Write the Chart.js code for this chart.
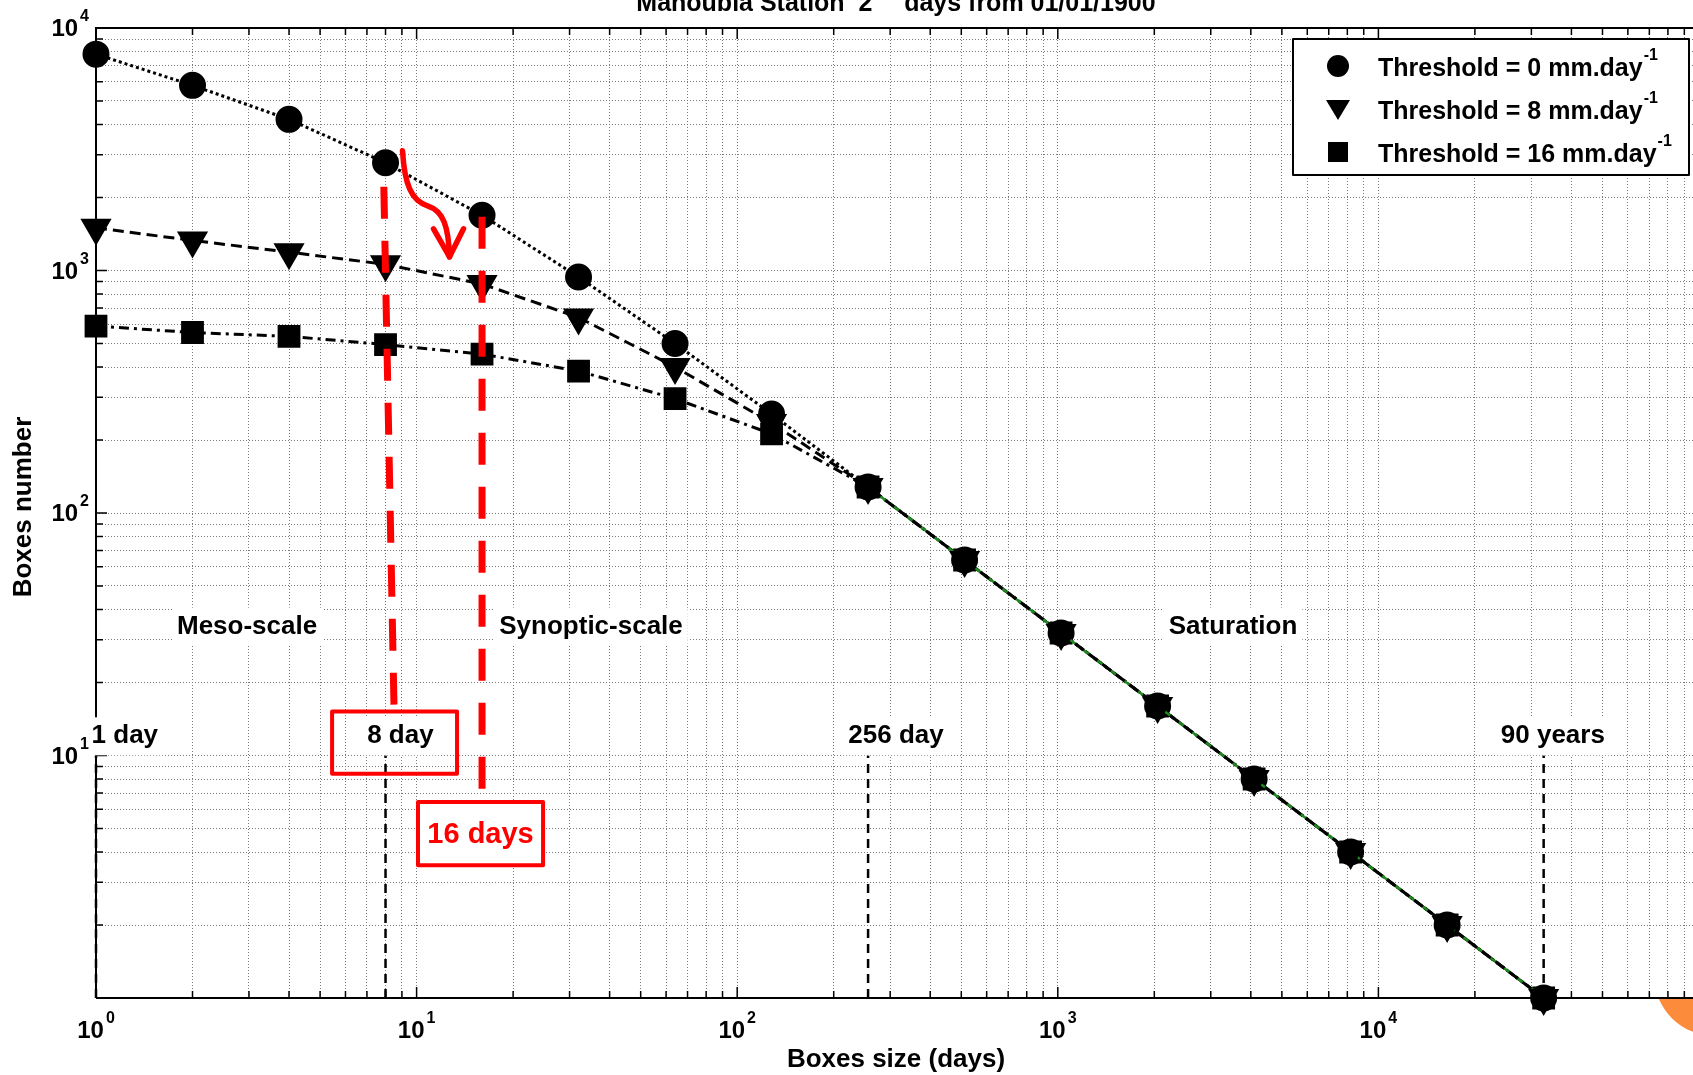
<!DOCTYPE html>
<html>
<head>
<meta charset="utf-8">
<title>Manoubia Station - boxes number vs boxes size</title>
<script src="https://cdn.jsdelivr.net/npm/chart.js@4.4.0/dist/chart.umd.min.js"></script>
<style>
  html, body { margin: 0; padding: 0; background: #fff; overflow: hidden; }
  #wrap { width: 1700px; height: 1075px; }
</style>
</head>
<body>
<div id="wrap"><canvas id="boxChart" width="1700" height="1075"></canvas></div>
<script>
// Box sizes in days (powers of two up to 2^15)
const boxSizes = [1, 2, 4, 8, 16, 32, 64, 128, 256, 512, 1024, 2048, 4096, 8192, 16384, 32768];
// Boxes number per threshold
const threshold0 = [7800, 5800, 4200, 2780, 1690, 940, 500, 256, 128, 64, 32, 16, 8, 4, 2, 1];
const threshold8 = [1500, 1330, 1190, 1060, 880, 640, 400, 235, 128, 64, 32, 16, 8, 4, 2, 1];
const threshold16 = [590, 555, 535, 495, 452, 385, 296, 212, 128, 64, 32, 16, 8, 4, 2, 1];
// green line along the saturation part
const fitSizes = [256, 512, 1024, 2048, 4096, 8192, 16384, 32768];
const fitValues = [128, 64, 32, 16, 8, 4, 2, 1];

const seriesLabels = ['Threshold = 0 mm.day', 'Threshold = 8 mm.day', 'Threshold = 16 mm.day'];
const xTickValues = [1, 10, 100, 1000, 10000];
const xTickExp = ['0', '1', '2', '3', '4'];
const yTickValues = [10, 100, 1000, 10000];
const yTickExp = ['1', '2', '3', '4'];

// black dashed markers (days) and their captions
const markerDays = [1, 8, 256, 32768];
const markerTop = 10;
const captionText = ['1 day', '8 day', '256 day', '90 years'];
const captionDays = [1.23, 8.9, 313, 35000];
const captionLevel = 12;
// scale regions
const regionNames = ['Meso-scale', 'Synoptic-scale', 'Saturation'];
const regionDays = [2.96, 35, 3520];
const regionLevel = 34;

const FONT = '"Liberation Sans", Arial, Helvetica, sans-serif';

function toPoints(xs, ys) {
  return xs.map((x, i) => ({ x: x, y: ys[i] }));
}

function gridValues(lo, hi) {
  const out = [];
  for (let d = lo; d < hi; d *= 10) {
    for (let m = 1; m < 10; m++) out.push(d * m);
  }
  out.push(hi);
  return out;
}

// "10" with a raised exponent
function drawPow(ctx, exp, x, y, align) {
  ctx.font = 'bold 24px ' + FONT;
  const wb = ctx.measureText('10').width;
  ctx.font = 'bold 16px ' + FONT;
  const we = ctx.measureText(exp).width;
  const total = wb + 2 + we;
  const x0 = align === 'right' ? x - total : x - total / 2;
  ctx.fillStyle = '#000';
  ctx.textAlign = 'left';
  ctx.textBaseline = 'alphabetic';
  ctx.font = 'bold 24px ' + FONT;
  ctx.fillText('10', x0, y);
  ctx.font = 'bold 16px ' + FONT;
  ctx.fillText(exp, x0 + wb + 2, y - 15);
}

function boxedText(ctx, text, x, y, color) {
  ctx.font = 'bold 26px ' + FONT;
  const w = ctx.measureText(text).width;
  ctx.fillStyle = '#fff';
  ctx.fillRect(x - w / 2 - 5, y - 19, w + 10, 38);
  ctx.fillStyle = color;
  ctx.textAlign = 'center';
  ctx.textBaseline = 'middle';
  ctx.fillText(text, x, y);
}

function marker(ctx, style, x, y) {
  ctx.fillStyle = '#000';
  ctx.beginPath();
  if (style === 'circle') {
    ctx.arc(x, y, 11, 0, Math.PI * 2);
  } else if (style === 'triangle') {
    ctx.moveTo(x - 12, y - 9);
    ctx.lineTo(x + 12, y - 9);
    ctx.lineTo(x, y + 11);
    ctx.closePath();
  } else {
    ctx.rect(x - 10, y - 10, 20, 20);
  }
  ctx.fill();
}

const decor = {
  id: 'decor',
  afterDatasetsDraw(chart) {
    const ctx = chart.ctx;
    const xs = chart.scales.x, ys = chart.scales.y;
    const a = chart.chartArea;
    const px = v => xs.getPixelForValue(v);
    const py = v => ys.getPixelForValue(v);
    ctx.save();

    // frame and small inward ticks
    ctx.strokeStyle = '#000';
    ctx.lineWidth = 2;
    ctx.beginPath();
    ctx.moveTo(a.left, a.bottom);
    ctx.lineTo(a.left, a.top);
    ctx.lineTo(a.right, a.top);
    ctx.moveTo(a.left, a.bottom);
    ctx.lineTo(a.right, a.bottom);
    ctx.stroke();
    ctx.lineWidth = 1.5;
    ctx.beginPath();
    gridValues(1, 100000).forEach(v => {
      const len = xTickValues.includes(v) ? 11 : 7;
      ctx.moveTo(px(v), a.bottom); ctx.lineTo(px(v), a.bottom - len);
      ctx.moveTo(px(v), a.top); ctx.lineTo(px(v), a.top + len);
    });
    gridValues(1, 10000).forEach(v => {
      const len = yTickValues.includes(v) ? 11 : 7;
      ctx.moveTo(a.left, py(v)); ctx.lineTo(a.left + len, py(v));
    });
    ctx.stroke();

    // black dashed day markers
    ctx.setLineDash([9, 6]);
    ctx.lineWidth = 2.5;
    ctx.beginPath();
    markerDays.forEach(d => {
      ctx.moveTo(px(d), py(1));
      ctx.lineTo(px(d), py(markerTop));
    });
    ctx.stroke();
    ctx.setLineDash([]);

    captionText.forEach((t, i) => boxedText(ctx, t, px(captionDays[i]), py(captionLevel), '#000'));
    regionNames.forEach((t, i) => boxedText(ctx, t, px(regionDays[i]), py(regionLevel), '#000'));

    // red dashed guides at 8 and 16 days (drawn bottom-up)
    ctx.strokeStyle = '#ff0000';
    ctx.lineWidth = 7;
    ctx.setLineDash([32, 22]);
    ctx.beginPath();
    ctx.moveTo(px(8.5), py(16.2)); ctx.lineTo(px(7.88), py(2700));
    ctx.stroke();
    ctx.beginPath();
    ctx.moveTo(px(16), py(7.3)); ctx.lineTo(px(16), py(2000));
    ctx.stroke();
    ctx.setLineDash([]);

    // red curved arrow from the 8 day point toward 16 days
    const ax = px(8), ay = py(threshold0[3]);
    ctx.lineWidth = 5.5;
    ctx.lineCap = 'round';
    ctx.lineJoin = 'round';
    ctx.beginPath();
    ctx.moveTo(ax + 17, ay - 12);
    ctx.bezierCurveTo(ax + 19, ay + 22, ax + 26, ay + 38, ax + 42, ay + 43);
    ctx.bezierCurveTo(ax + 58, ay + 48, ax + 63, ay + 64, ax + 64, ay + 94);
    ctx.stroke();
    ctx.beginPath();
    ctx.moveTo(ax + 48, ay + 66);
    ctx.lineTo(ax + 64, ay + 94);
    ctx.lineTo(ax + 78, ay + 66);
    ctx.stroke();

    // red boxes
    ctx.lineWidth = 4;
    ctx.lineCap = 'butt';
    ctx.strokeRect(px(5.45), py(15.2), px(13.37) - px(5.45), py(8.4) - py(15.2));
    ctx.fillStyle = '#fff';
    ctx.fillRect(px(10.1), py(6.43), px(24.8) - px(10.1), py(3.53) - py(6.43));
    ctx.strokeRect(px(10.1), py(6.43), px(24.8) - px(10.1), py(3.53) - py(6.43));
    ctx.fillStyle = '#ff0000';
    ctx.font = 'bold 29px ' + FONT;
    ctx.textAlign = 'center';
    ctx.textBaseline = 'middle';
    ctx.fillText('16 days', (px(10.1) + px(24.8)) / 2, (py(6.43) + py(3.53)) / 2 + 1);

    // tick labels
    xTickValues.forEach((v, i) => drawPow(ctx, xTickExp[i], px(v), 1038, 'center'));
    yTickValues.forEach((v, i) => drawPow(ctx, yTickExp[i], 89, py(v) + 8, 'right'));

    // axis titles and (cut) title
    ctx.fillStyle = '#000';
    ctx.font = 'bold 26px ' + FONT;
    ctx.textAlign = 'center';
    ctx.textBaseline = 'middle';
    ctx.fillText('Boxes size (days)', 896, 1060);
    ctx.save();
    ctx.translate(24, 507);
    ctx.rotate(-Math.PI / 2);
    ctx.fillText('Boxes number', 0, 0);
    ctx.restore();

    ctx.textBaseline = 'alphabetic';
    ctx.textAlign = 'left';
    const t1 = 'Manoubia Station  2', t2 = '15', t3 = '  days from 01/01/1900';
    ctx.font = 'bold 25px ' + FONT;
    const w1 = ctx.measureText(t1).width, w3 = ctx.measureText(t3).width;
    ctx.font = 'bold 16px ' + FONT;
    const w2 = ctx.measureText(t2).width;
    const tx = 896 - (w1 + w2 + w3) / 2;
    ctx.font = 'bold 25px ' + FONT;
    ctx.fillText(t1, tx, 11);
    ctx.font = 'bold 16px ' + FONT;
    ctx.fillText(t2, tx + w1, -4);
    ctx.font = 'bold 25px ' + FONT;
    ctx.fillText(t3, tx + w1 + w2, 11);

    // legend
    const lx = 1293, ly = 39, lw = 396, lh = 136;
    ctx.fillStyle = '#fff';
    ctx.fillRect(lx, ly, lw, lh);
    ctx.strokeStyle = '#000';
    ctx.lineWidth = 2;
    ctx.strokeRect(lx, ly, lw, lh);
    const styles = ['circle', 'triangle', 'rect'];
    seriesLabels.forEach((lab, i) => {
      const ry = ly + 27 + i * 43;
      marker(ctx, styles[i], lx + 45, ry);
      ctx.fillStyle = '#000';
      ctx.textAlign = 'left';
      ctx.textBaseline = 'middle';
      ctx.font = 'bold 25px ' + FONT;
      ctx.fillText(lab, lx + 85, ry + 3);
      const w = ctx.measureText(lab).width;
      ctx.font = 'bold 16px ' + FONT;
      ctx.fillText('-1', lx + 86 + w, ry - 10);
    });

    // orange slide decoration in the corner
    ctx.save();
    ctx.beginPath();
    ctx.rect(0, a.bottom + 1, 1700, 200);
    ctx.clip();
    ctx.fillStyle = '#fd8b3c';
    ctx.beginPath();
    ctx.arc(1715, 975, 61, 0, Math.PI * 2);
    ctx.fill();
    ctx.restore();

    ctx.restore();
  }
};

const ctx = document.getElementById('boxChart').getContext('2d');
const boxChart = new Chart(ctx, {
  type: 'scatter',
  data: {
    datasets: [
      {
        label: seriesLabels[0],
        data: toPoints(boxSizes, threshold0),
        showLine: true,
        order: 2,
        borderColor: '#000',
        borderWidth: 3,
        borderDash: [3, 3],
        pointStyle: 'circle',
        pointRadius: 12,
        pointBackgroundColor: '#000',
        pointBorderColor: '#000',
        clip: false
      },
      {
        label: seriesLabels[1],
        data: toPoints(boxSizes, threshold8),
        showLine: true,
        order: 0,
        borderColor: '#000',
        borderWidth: 3,
        borderDash: [11, 6],
        pointStyle: 'triangle',
        pointRotation: 180,
        pointRadius: 15,
        pointBackgroundColor: '#000',
        pointBorderColor: '#000',
        clip: false
      },
      {
        label: seriesLabels[2],
        data: toPoints(boxSizes, threshold16),
        showLine: true,
        order: 3,
        borderColor: '#000',
        borderWidth: 3,
        borderDash: [10, 5, 3, 5],
        pointStyle: 'rect',
        pointRadius: 14,
        pointBackgroundColor: '#000',
        pointBorderColor: '#000',
        clip: false
      },
      {
        label: 'fit',
        data: toPoints(fitSizes, fitValues),
        showLine: true,
        order: 1,
        borderColor: '#1d8a1d',
        borderWidth: 2.5,
        pointRadius: 0,
        clip: false
      }
    ]
  },
  options: {
    responsive: false,
    animation: false,
    layout: { autoPadding: false, padding: { left: 96, top: 28, right: 1, bottom: 77 } },
    plugins: {
      legend: { display: false },
      tooltip: { enabled: false },
      title: { display: false }
    },
    scales: {
      x: {
        type: 'logarithmic',
        min: 1,
        max: 100000,
        afterBuildTicks: s => { s.ticks = gridValues(1, 100000).map(v => ({ value: v })); },
        afterFit: s => { s.height = 0; },
        ticks: { display: false },
        grid: { color: '#7a7a7a', lineWidth: 1, drawTicks: false },
        border: { display: false, dash: [1, 2] }
      },
      y: {
        type: 'logarithmic',
        min: 1,
        max: 10000,
        afterBuildTicks: s => { s.ticks = gridValues(1, 10000).map(v => ({ value: v })); },
        afterFit: s => { s.width = 0; },
        ticks: { display: false },
        grid: { color: '#7a7a7a', lineWidth: 1, drawTicks: false },
        border: { display: false, dash: [1, 2] }
      }
    }
  },
  plugins: [decor]
});
</script>
</body>
</html>
